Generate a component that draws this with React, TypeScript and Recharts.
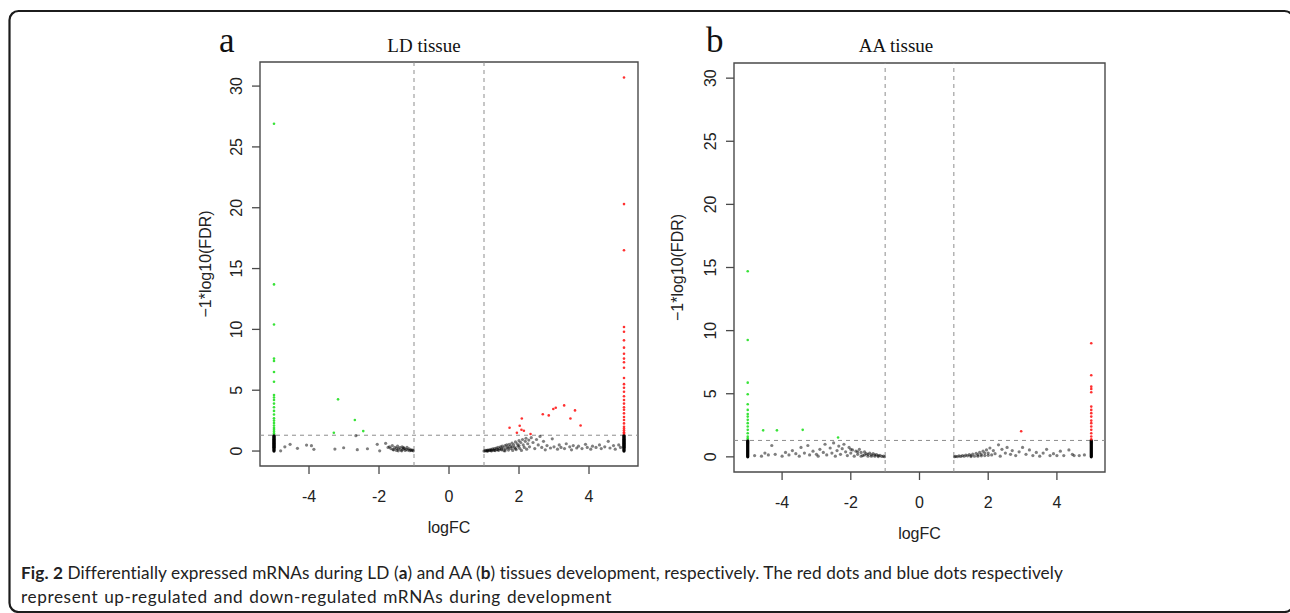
import { ScatterChart, Scatter, XAxis, YAxis, ReferenceLine, ReferenceArea } from 'recharts';

type Pt = { x: number; y: number };

// logFC axis ticks / cut-offs shared by both panels
const xTicks = [-4, -2, 0, 2, 4];
const yTicks = [0, 5, 10, 15, 20, 25, 30];
const fcCutoffs = [-1, 1];
const fdrCutoff = 1.3;

// ---- LD tissue (panel a) ----
const ldUp: Pt[] = [
  { x: 5, y: 30.7 }, { x: 5, y: 20.3 }, { x: 5, y: 16.5 }, { x: 5, y: 10.2 }, { x: 5, y: 9.8 },
  { x: 5, y: 9.1 }, { x: 5, y: 8.5 }, { x: 5, y: 8.0 }, { x: 5, y: 7.6 }, { x: 5, y: 7.3 },
  { x: 5, y: 6.85 }, { x: 5, y: 6.0 }, { x: 5, y: 5.5 }, { x: 5, y: 5.2 }, { x: 5, y: 4.87 },
  { x: 5, y: 4.5 }, { x: 5, y: 4.19 }, { x: 5, y: 3.9 }, { x: 5, y: 3.6 }, { x: 5, y: 3.4 },
  { x: 5, y: 3.1 }, { x: 5, y: 2.8 }, { x: 5, y: 2.55 }, { x: 5, y: 2.27 }, { x: 5, y: 2.0 },
  { x: 5, y: 1.85 }, { x: 5, y: 1.7 }, { x: 5, y: 1.55 }, { x: 5, y: 1.45 },
  { x: 2.08, y: 2.68 }, { x: 1.73, y: 1.91 }, { x: 2.02, y: 2.08 }, { x: 2.07, y: 1.75 },
  { x: 2.14, y: 1.67 }, { x: 1.94, y: 1.5 }, { x: 2.33, y: 1.4 }, { x: 2.68, y: 3.03 },
  { x: 2.85, y: 2.93 }, { x: 2.98, y: 3.45 }, { x: 3.05, y: 3.56 }, { x: 3.29, y: 3.75 },
  { x: 3.6, y: 3.34 }, { x: 3.47, y: 2.68 }, { x: 3.76, y: 2.1 },
];

const ldDown: Pt[] = [
  { x: -5, y: 26.9 }, { x: -5, y: 13.7 }, { x: -5, y: 10.4 }, { x: -5, y: 7.6 }, { x: -5, y: 7.4 },
  { x: -5, y: 6.5 }, { x: -5, y: 5.7 }, { x: -5, y: 4.6 }, { x: -5, y: 4.4 }, { x: -5, y: 4.2 },
  { x: -5, y: 3.9 }, { x: -5, y: 3.6 }, { x: -5, y: 3.3 }, { x: -5, y: 3.0 }, { x: -5, y: 2.7 },
  { x: -5, y: 2.5 }, { x: -5, y: 2.3 }, { x: -5, y: 2.1 }, { x: -5, y: 1.9 }, { x: -5, y: 1.75 },
  { x: -5, y: 1.6 }, { x: -5, y: 1.45 },
  { x: -3.17, y: 4.25 }, { x: -2.69, y: 2.55 }, { x: -2.45, y: 1.64 }, { x: -3.29, y: 1.5 },
];

const ldNs: Pt[] = [
  { x: -4.81, y: 0.02 }, { x: -4.69, y: 0.35 }, { x: -4.54, y: 0.55 }, { x: -4.33, y: 0.22 },
  { x: -4.07, y: 0.49 }, { x: -3.93, y: 0.44 }, { x: -3.86, y: 0.14 }, { x: -3.26, y: 0.16 },
  { x: -3.01, y: 0.27 }, { x: -2.66, y: 1.26 }, { x: -2.62, y: 0.11 }, { x: -2.33, y: 0.19 },
  { x: -2.05, y: 0.55 }, { x: -1.98, y: 0.02 }, { x: -1.81, y: 0.63 }, { x: -1.74, y: 0.3 },
  { x: -1.7, y: 0.35 }, { x: -1.66, y: 0.2 }, { x: -1.62, y: 0.45 }, { x: -1.58, y: 0.1 },
  { x: -1.55, y: 0.3 }, { x: -1.5, y: 0.05 }, { x: -1.47, y: 0.4 }, { x: -1.44, y: 0.18 },
  { x: -1.4, y: 0.28 }, { x: -1.37, y: 0.08 }, { x: -1.34, y: 0.35 }, { x: -1.31, y: 0.15 },
  { x: -1.28, y: 0.22 }, { x: -1.25, y: 0.05 }, { x: -1.22, y: 0.14 }, { x: -1.2, y: 0.3 },
  { x: -1.17, y: 0.08 }, { x: -1.14, y: 0.18 }, { x: -1.12, y: 0.03 }, { x: -1.09, y: 0.1 },
  { x: -1.07, y: 0.05 }, { x: -1.04, y: 0.08 }, { x: -1.02, y: 0.02 }, { x: -1.5, y: 0.22 },
  { x: -1.45, y: 0.02 }, { x: -1.6, y: 0.12 }, { x: -1.35, y: 0.02 }, { x: -1.3, y: 0.28 },
  { x: 1.0, y: 0.0 }, { x: 1.03, y: 0.02 }, { x: 1.05, y: 0.05 }, { x: 1.08, y: 0.01 },
  { x: 1.1, y: 0.08 }, { x: 1.12, y: 0.03 }, { x: 1.15, y: 0.1 }, { x: 1.17, y: 0.05 },
  { x: 1.2, y: 0.13 }, { x: 1.22, y: 0.02 }, { x: 1.25, y: 0.17 }, { x: 1.27, y: 0.08 },
  { x: 1.3, y: 0.2 }, { x: 1.32, y: 0.04 }, { x: 1.35, y: 0.25 }, { x: 1.37, y: 0.12 },
  { x: 1.4, y: 0.3 }, { x: 1.42, y: 0.06 }, { x: 1.45, y: 0.2 }, { x: 1.47, y: 0.35 },
  { x: 1.5, y: 0.1 }, { x: 1.52, y: 0.4 }, { x: 1.55, y: 0.27 }, { x: 1.57, y: 0.03 },
  { x: 1.6, y: 0.45 }, { x: 1.62, y: 0.18 }, { x: 1.65, y: 0.5 }, { x: 1.67, y: 0.32 },
  { x: 1.7, y: 0.08 }, { x: 1.72, y: 0.55 }, { x: 1.75, y: 0.4 }, { x: 1.77, y: 0.2 },
  { x: 1.8, y: 0.65 }, { x: 1.82, y: 0.05 }, { x: 1.85, y: 0.5 }, { x: 1.87, y: 0.3 },
  { x: 1.9, y: 0.75 }, { x: 1.92, y: 0.12 }, { x: 1.95, y: 0.6 }, { x: 1.97, y: 0.4 },
  { x: 2.0, y: 0.85 }, { x: 2.02, y: 0.22 }, { x: 2.05, y: 0.7 }, { x: 2.07, y: 0.05 },
  { x: 2.1, y: 0.95 }, { x: 2.12, y: 0.5 }, { x: 2.15, y: 0.3 }, { x: 2.18, y: 0.8 },
  { x: 2.2, y: 1.05 }, { x: 2.22, y: 0.15 }, { x: 2.25, y: 0.6 }, { x: 2.28, y: 0.9 },
  { x: 2.3, y: 0.35 }, { x: 2.35, y: 1.1 }, { x: 2.4, y: 0.7 }, { x: 2.45, y: 0.2 },
  { x: 2.5, y: 0.95 }, { x: 2.55, y: 0.5 }, { x: 2.6, y: 1.2 }, { x: 2.65, y: 0.3 },
  { x: 1.1, y: 0.0 }, { x: 1.2, y: 0.03 }, { x: 1.3, y: 0.06 }, { x: 1.4, y: 0.1 },
  { x: 1.5, y: 0.15 }, { x: 1.6, y: 0.02 }, { x: 1.7, y: 0.25 }, { x: 1.8, y: 0.35 },
  { x: 1.9, y: 0.2 }, { x: 2.0, y: 0.45 },
  { x: 2.7, y: 0.8 }, { x: 2.75, y: 0.1 }, { x: 2.8, y: 0.45 }, { x: 2.9, y: 0.25 },
  { x: 2.95, y: 1.0 }, { x: 3.0, y: 0.35 }, { x: 3.1, y: 0.15 }, { x: 3.15, y: 0.5 },
  { x: 3.2, y: 0.3 }, { x: 3.3, y: 0.2 }, { x: 3.35, y: 0.6 }, { x: 3.45, y: 0.35 },
  { x: 3.5, y: 0.1 }, { x: 3.55, y: 0.45 }, { x: 3.65, y: 0.25 }, { x: 3.7, y: 0.4 },
  { x: 3.8, y: 0.2 }, { x: 3.9, y: 0.55 }, { x: 3.95, y: 0.3 }, { x: 4.05, y: 0.15 },
  { x: 4.1, y: 0.4 }, { x: 4.2, y: 0.3 }, { x: 4.3, y: 0.5 }, { x: 4.35, y: 0.2 },
  { x: 4.45, y: 0.35 }, { x: 4.55, y: 0.8 }, { x: 4.6, y: 0.25 }, { x: 4.7, y: 0.45 },
  { x: 4.75, y: 0.15 }, { x: 4.85, y: 0.5 }, { x: 4.9, y: 0.3 },
];

// genes only seen in one stage: logFC capped at +/-5, not significant
const cappedY = [0, 0.08, 0.16, 0.24, 0.32, 0.4, 0.48, 0.56, 0.64, 0.72, 0.8, 0.88, 0.96, 1.04, 1.12, 1.2, 1.28];
const capped: Pt[] = [
  ...cappedY.map(y => ({ x: -5, y })),
  ...cappedY.map(y => ({ x: 5, y })),
];

// ---- AA tissue (panel b) ----
const aaUp: Pt[] = [
  { x: 5, y: 9.0 }, { x: 5, y: 6.46 }, { x: 5, y: 5.56 }, { x: 5, y: 5.38 }, { x: 5, y: 5.12 },
  { x: 5, y: 3.98 }, { x: 5, y: 3.72 }, { x: 5, y: 3.46 }, { x: 5, y: 3.19 }, { x: 5, y: 2.87 },
  { x: 5, y: 2.67 }, { x: 5, y: 2.4 }, { x: 5, y: 2.14 }, { x: 5, y: 1.87 }, { x: 5, y: 1.61 },
  { x: 5, y: 1.4 },
  { x: 2.96, y: 2.03 },
];

const aaDown: Pt[] = [
  { x: -5, y: 14.7 }, { x: -5, y: 9.26 }, { x: -5, y: 5.88 }, { x: -5, y: 4.96 }, { x: -5, y: 4.17 },
  { x: -5, y: 3.72 }, { x: -5, y: 3.4 }, { x: -5, y: 3.19 }, { x: -5, y: 2.93 }, { x: -5, y: 2.67 },
  { x: -5, y: 2.4 }, { x: -5, y: 2.14 }, { x: -5, y: 1.87 }, { x: -5, y: 1.6 }, { x: -5, y: 1.45 },
  { x: -4.55, y: 2.1 }, { x: -4.15, y: 2.1 }, { x: -3.4, y: 2.14 }, { x: -2.37, y: 1.53 },
];

const aaNs: Pt[] = [
  { x: -4.8, y: 0.1 }, { x: -4.6, y: 0.05 }, { x: -4.5, y: 0.3 }, { x: -4.4, y: 0.15 },
  { x: -4.3, y: 0.9 }, { x: -4.2, y: 0.2 }, { x: -4.0, y: 0.05 }, { x: -3.9, y: 0.35 },
  { x: -3.8, y: 0.15 }, { x: -3.7, y: 0.5 }, { x: -3.6, y: 0.25 }, { x: -3.5, y: 0.05 },
  { x: -3.45, y: 0.75 }, { x: -3.35, y: 0.3 }, { x: -3.25, y: 0.9 }, { x: -3.2, y: 0.15 },
  { x: -3.1, y: 0.45 }, { x: -3.0, y: 0.2 }, { x: -2.95, y: 0.05 }, { x: -2.9, y: 0.6 },
  { x: -2.8, y: 0.35 }, { x: -2.75, y: 1.0 }, { x: -2.7, y: 0.15 }, { x: -2.6, y: 0.7 },
  { x: -2.55, y: 0.3 }, { x: -2.5, y: 1.1 }, { x: -2.45, y: 0.05 }, { x: -2.4, y: 0.5 },
  { x: -2.35, y: 0.85 }, { x: -2.3, y: 0.2 }, { x: -2.25, y: 0.65 }, { x: -2.2, y: 1.0 },
  { x: -2.15, y: 0.4 }, { x: -2.1, y: 0.1 }, { x: -2.05, y: 0.75 }, { x: -2.0, y: 0.3 },
  { x: -1.95, y: 0.55 }, { x: -1.9, y: 0.05 }, { x: -1.85, y: 0.45 }, { x: -1.8, y: 0.2 },
  { x: -1.75, y: 0.6 }, { x: -1.7, y: 0.35 }, { x: -1.65, y: 0.1 }, { x: -1.6, y: 0.4 },
  { x: -1.55, y: 0.25 }, { x: -1.5, y: 0.05 }, { x: -1.45, y: 0.3 }, { x: -1.4, y: 0.15 },
  { x: -1.35, y: 0.25 }, { x: -1.3, y: 0.05 }, { x: -1.25, y: 0.18 }, { x: -1.2, y: 0.1 },
  { x: -1.15, y: 0.12 }, { x: -1.1, y: 0.03 }, { x: -1.05, y: 0.06 }, { x: -1.02, y: 0.01 },
  { x: -1.7, y: 0.05 }, { x: -1.6, y: 0.15 }, { x: -1.5, y: 0.2 }, { x: -1.4, y: 0.05 },
  { x: -1.3, y: 0.15 }, { x: -1.2, y: 0.02 }, { x: -1.8, y: 0.4 }, { x: -2.0, y: 0.6 },
  { x: 1.02, y: 0.01 }, { x: 1.05, y: 0.04 }, { x: 1.1, y: 0.02 }, { x: 1.15, y: 0.07 },
  { x: 1.2, y: 0.03 }, { x: 1.25, y: 0.1 }, { x: 1.3, y: 0.05 }, { x: 1.35, y: 0.14 },
  { x: 1.4, y: 0.08 }, { x: 1.45, y: 0.18 }, { x: 1.5, y: 0.1 }, { x: 1.55, y: 0.22 },
  { x: 1.6, y: 0.05 }, { x: 1.65, y: 0.28 }, { x: 1.7, y: 0.15 }, { x: 1.75, y: 0.35 },
  { x: 1.8, y: 0.2 }, { x: 1.85, y: 0.45 }, { x: 1.9, y: 0.1 }, { x: 1.95, y: 0.55 },
  { x: 2.0, y: 0.3 }, { x: 2.05, y: 0.7 }, { x: 2.1, y: 0.15 }, { x: 2.15, y: 0.5 },
  { x: 2.2, y: 0.25 }, { x: 2.3, y: 0.95 }, { x: 2.35, y: 0.05 }, { x: 2.4, y: 0.6 },
  { x: 2.5, y: 0.3 }, { x: 2.55, y: 0.75 }, { x: 2.65, y: 0.2 }, { x: 2.7, y: 0.5 },
  { x: 2.8, y: 0.1 }, { x: 2.9, y: 0.4 }, { x: 3.0, y: 0.75 }, { x: 3.1, y: 0.2 },
  { x: 3.2, y: 0.55 }, { x: 3.3, y: 0.1 }, { x: 3.4, y: 0.35 }, { x: 3.5, y: 0.05 },
  { x: 3.6, y: 0.3 }, { x: 3.7, y: 0.6 }, { x: 3.8, y: 0.1 }, { x: 3.9, y: 0.25 },
  { x: 4.0, y: 0.1 }, { x: 4.1, y: 0.45 }, { x: 4.2, y: 0.1 }, { x: 4.35, y: 0.55 },
  { x: 4.45, y: 0.2 }, { x: 4.5, y: 0.1 }, { x: 4.65, y: 0.1 }, { x: 4.8, y: 0.15 },
  { x: 1.5, y: 0.02 }, { x: 1.7, y: 0.05 }, { x: 1.8, y: 0.08 }, { x: 2.0, y: 0.12 },
  { x: 1.9, y: 0.3 },
];

const sans = '"Liberation Sans", Arial, sans-serif';
const serif = '"Liberation Serif", "Times New Roman", serif';
const frameColor = '#4a4a4a';

const dot = (fill: string, r: number, opacity: number) => (p: any) => (
  <circle cx={p.cx} cy={p.cy} r={r} fill={fill} fillOpacity={opacity} />
);

const YTick = (props: any) => {
  const { x, y, payload } = props;
  return (
    <text x={x} y={y} transform={`rotate(-90 ${x} ${y})`} textAnchor="middle" fontSize={16} fill="#222" fontFamily={sans}>
      {payload.value}
    </text>
  );
};

interface PanelProps {
  width: number;
  height: number;
  top: number;
  right: number;
  yAxisWidth: number;
  xAxisHeight: number;
  xLabelOffset: number;
  yDomain: [number, number];
  up: Pt[];
  down: Pt[];
  ns: Pt[];
}

function VolcanoPanel({ width, height, top, right, yAxisWidth, xAxisHeight, xLabelOffset, yDomain, up, down, ns }: PanelProps) {
  const xDomain: [number, number] = [-5.4, 5.4];
  return (
    <ScatterChart width={width} height={height} margin={{ top, right, left: 0, bottom: 0 }}>
      <XAxis
        type="number"
        dataKey="x"
        domain={xDomain}
        ticks={xTicks}
        allowDataOverflow
        axisLine={false}
        tickSize={8}
        tickMargin={17}
        height={xAxisHeight}
        tickLine={{ stroke: frameColor, strokeWidth: 1.3 }}
        tick={{ fontSize: 16, fill: '#222', fontFamily: sans }}
        label={{ value: 'logFC', position: 'insideBottom', offset: xLabelOffset, fontSize: 16, fill: '#222', fontFamily: sans }}
      />
      <YAxis
        type="number"
        dataKey="y"
        domain={yDomain}
        ticks={yTicks}
        allowDataOverflow
        axisLine={false}
        width={yAxisWidth}
        tickSize={8}
        tickMargin={10}
        tickLine={{ stroke: frameColor, strokeWidth: 1.3 }}
        tick={<YTick />}
        label={{ value: '\u22121*log10(FDR)', angle: -90, position: 'center', fontSize: 16, fill: '#222', fontFamily: sans }}
      />
      <ReferenceArea
        x1={xDomain[0]}
        x2={xDomain[1]}
        y1={yDomain[0]}
        y2={yDomain[1]}
        fill="none"
        stroke={frameColor}
        strokeWidth={1.4}
        ifOverflow="visible"
      />
      {fcCutoffs.map(c => (
        <ReferenceLine key={c} x={c} stroke="#8d8d8d" strokeDasharray="4 4" />
      ))}
      <ReferenceLine y={fdrCutoff} stroke="#8d8d8d" strokeDasharray="4 4" />
      <Scatter data={ns} shape={dot('#000', 1.6, 0.5)} isAnimationActive={false} />
      <Scatter data={capped} shape={dot('#000', 1.6, 1)} isAnimationActive={false} />
      <Scatter data={up} shape={dot('#ff1a1a', 1.3, 0.9)} isAnimationActive={false} />
      <Scatter data={down} shape={dot('#22e022', 1.3, 0.9)} isAnimationActive={false} />
    </ScatterChart>
  );
}

export default function App() {
  return (
    <div style={{ position: 'relative', width: 1290, height: 613, background: '#fff', overflow: 'hidden' }}>
      <style>{'body{margin:0}'}</style>
      <svg width={1290} height={613} style={{ position: 'absolute', left: 0, top: 0 }}>
        <rect x={9.5} y={11} width={1284} height={601} rx={9} fill="none" stroke="#1c1c1c" strokeWidth={2.2} />
        <text x={219} y={52} fontSize={35} fontFamily={serif} fill="#111">a</text>
        <text x={424} y={52} fontSize={19} fontFamily={serif} fill="#111" textAnchor="middle">LD tissue</text>
        <text x={706} y={52} fontSize={35} fontFamily={serif} fill="#111">b</text>
        <text x={896} y={52} fontSize={19} fontFamily={serif} fill="#111" textAnchor="middle">AA tissue</text>
        <text x={21} y={579} fontSize={17.2} fontFamily="Lato, sans-serif" fill="#222" letterSpacing={0.1}>
          <tspan fontWeight="bold">Fig. 2</tspan> Differentially expressed mRNAs during LD (<tspan fontWeight="bold">a</tspan>) and AA (<tspan fontWeight="bold">b</tspan>) tissues development, respectively. The red dots and blue dots respectively
        </text>
        <text x={21} y={603} fontSize={17.2} fontFamily="Lato, sans-serif" fill="#222" letterSpacing={0.6} wordSpacing={1}>
          represent up-regulated and down-regulated mRNAs during development
        </text>
      </svg>
      <div style={{ position: 'absolute', left: 150, top: 40 }}>
        <VolcanoPanel
          width={520}
          height={500}
          top={22}
          right={32}
          yAxisWidth={110}
          xAxisHeight={74}
          xLabelOffset={7}
          yDomain={[-1.23, 31.98]}
          up={ldUp}
          down={ldDown}
          ns={ldNs}
        />
      </div>
      <div style={{ position: 'absolute', left: 620, top: 40 }}>
        <VolcanoPanel
          width={520}
          height={510}
          top={23}
          right={35}
          yAxisWidth={114}
          xAxisHeight={78}
          xLabelOffset={11}
          yDomain={[-1.2, 31.2]}
          up={aaUp}
          down={aaDown}
          ns={aaNs}
        />
      </div>
    </div>
  );
}
